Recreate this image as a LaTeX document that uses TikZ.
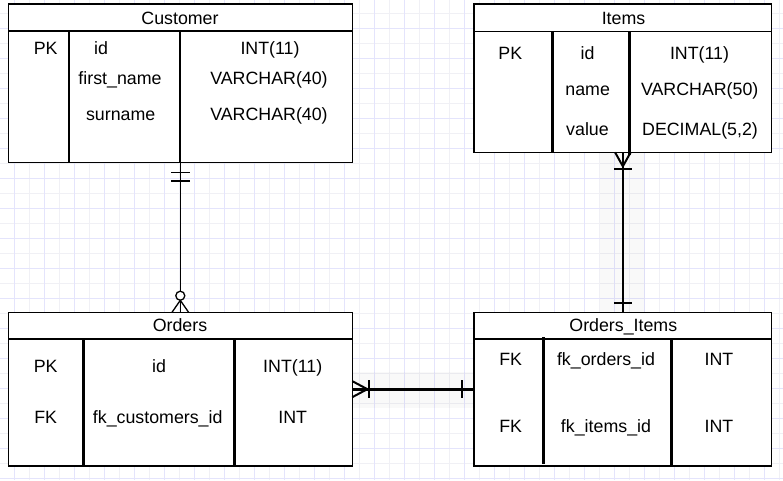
\documentclass[tikz,border=0pt]{standalone}
\usepackage{fontspec}
\setmainfont{Liberation Sans}
\usepackage{tikz}
\usetikzlibrary{calc}
\definecolor{gridmaj}{RGB}{228,228,252}
\definecolor{gridmin}{RGB}{240,240,245}

\begin{document}
\begin{tikzpicture}[line cap=butt,line join=miter,x=1pt,y=1pt,
	tbl/.style={draw,line width=1.3pt,fill=white,inner sep=0pt,outer sep=0pt},
	cell/.style={inner sep=0pt,anchor=base,font=\fontsize{17.8}{20}\selectfont},
	colsep/.style={line width=2.7pt},
	hover/.style={fill=black,fill opacity=0.022}]
\useasboundingbox (0,0) rectangle (783,-480);
\fill[white] (0,0) rectangle (783,-480);
% grid
\foreach \k in {0,...,25} \draw[gridmin,line width=1pt] (29.3+30*\k,0) -- ++(0,-480);
\foreach \k in {0,...,15} \draw[gridmin,line width=1pt] (0,-13.3-30*\k) -- ++(783,0);
\foreach \k in {0,...,25} \draw[gridmaj,line width=1pt] (14.3+30*\k,0) -- ++(0,-480);
\foreach \k in {0,...,15} \draw[gridmaj,line width=1pt] (0,-28.3-30*\k) -- ++(783,0);
\fill[hover] (352.3,-372) rectangle (474,-408);
\fill[hover] (600,-152.3) rectangle (645,-312.3);
% tables
\node[tbl,minimum width=344,minimum height=158.7] (customer) at (180.3,-83.35) {};
\node[tbl,minimum width=297.7,minimum height=148.3] (items) at (622.85,-78.15) {};
\node[tbl,minimum width=344,minimum height=153.7] (orders) at (180.3,-389.15) {};
\node[tbl,minimum width=297.7,minimum height=153.7] (oitems) at (622.85,-389.15) {};
\draw[line width=1.3pt] (8.3,-31) -- (352.3,-31);
\draw[line width=1.3pt] (474,-31.5) -- (771.7,-31.5);
\draw[line width=1.3pt] (8.3,-339) -- (352.3,-339);
\draw[line width=1.3pt] (474,-339) -- (771.7,-339);
\draw[colsep] (69,-31) -- (69,-162.7);
\draw[colsep] (180,-31) -- (180,-162.7);
\draw[colsep] (552.3,-31.5) -- (552.3,-152.3);
\draw[colsep] (629.3,-31.5) -- (629.3,-155);
\draw[colsep] (83.3,-339) -- (83.3,-466);
\draw[colsep] (234.3,-339) -- (234.3,-466);
\draw[colsep] (543.3,-337) -- (543.3,-464);
\draw[colsep] (671.7,-339) -- (671.7,-466);
% Customer
\node[cell] (customerhd) at (180,-24.3) {Customer};
\node[cell] (cpk) at (45.7,-54.3) {PK};
\node[cell] (cid) at (101,-54.3) {id};
\node[cell] (cidt) at (270,-54.3) {INT(11)};
\node[cell] (cfirst) at (120,-84.5) {first\_name};
\node[cell] (cfirstt) at (269,-84.5) {VARCHAR(40)};
\node[cell] (csur) at (120.7,-120) {surname};
\node[cell] (csurt) at (269,-120) {VARCHAR(40)};
% Items
\node[cell] (itemshd) at (623.5,-24.3) {Items};
\node[cell] (ipk) at (510.3,-59.3) {PK};
\node[cell] (iid) at (587.5,-59.3) {id};
\node[cell] (iidt) at (699.5,-59.3) {INT(11)};
\node[cell] (iname) at (587.7,-95) {name};
\node[cell] (inamet) at (699.7,-95) {VARCHAR(50)};
\node[cell] (ivalue) at (587.5,-135) {value};
\node[cell] (ivaluet) at (700,-135) {DECIMAL(5,2)};
% Orders
\node[cell] (ordershd) at (180,-331.7) {Orders};
\node[cell] (opk) at (45.7,-372.3) {PK};
\node[cell] (oid) at (159,-372.3) {id};
\node[cell] (oidt) at (292.7,-372.3) {INT(11)};
\node[cell] (ofk) at (45.7,-423.3) {FK};
\node[cell] (ocust) at (157.7,-423.3) {fk\_customers\_id};
\node[cell] (ocustt) at (292.7,-423.3) {INT};
% Orders_Items
\node[cell] (oitemshd) at (623.3,-331.7) {Orders\_Items};
\node[cell] (oifk) at (510.7,-365.7) {FK};
\node[cell] (oiord) at (606,-365.7) {fk\_orders\_id};
\node[cell] (oiordt) at (719,-365.7) {INT};
\node[cell] (oifk2) at (510.7,-432.7) {FK};
\node[cell] (oiitem) at (606,-432.7) {fk\_items\_id};
\node[cell] (oiitemt) at (719,-432.7) {INT};
% relations
\draw[line width=1.3pt] (customer.south) -- (orders.north);
\draw[line width=1.3pt] ($(customer.south)+(-9.3,-9.6)$) -- ++(18.6,0);
\draw[line width=1.3pt] ($(customer.south)+(-9.3,-18.3)$) -- ++(18.6,0);
\draw[line width=1.3pt] ($(orders.north)+(-8.3,0)$) -- ($(orders.north)+(0,12)$) -- ($(orders.north)+(8.3,0)$);
\draw[line width=1.3pt,fill=white] ($(orders.north)+(0,16.6)$) circle (4.5);
\draw[line width=3pt] (orders.east) -- (oitems.west);
\draw[line width=2pt] ($(orders.east)+(0,8)$) -- ($(orders.east)+(15,0)$) -- ($(orders.east)+(0,-8)$);
\draw[line width=2pt] ($(orders.east)+(16.5,8.7)$) -- ++(0,-17.4);
\draw[line width=2pt] ($(oitems.west)+(-12.3,8.7)$) -- ++(0,-17.4);
\draw[line width=2pt] (items.south) -- (oitems.north);
\draw[line width=2pt] ($(items.south)+(-7.8,0)$) -- ($(items.south)+(0,-14)$) -- ($(items.south)+(7.8,0)$);
\draw[line width=2pt] ($(items.south)+(-9.1,-16.8)$) -- ++(18.2,0);
\draw[line width=2pt] ($(oitems.north)+(-9.1,9)$) -- ++(18.2,0);
\end{tikzpicture}
\end{document}
